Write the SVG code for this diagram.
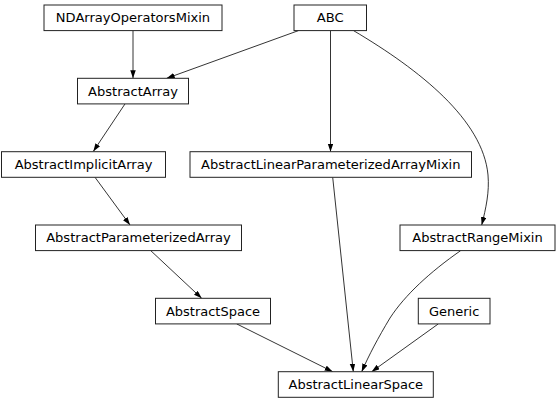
<svg xmlns="http://www.w3.org/2000/svg" width="559" height="403" viewBox="0 0 559 403">
<style>
  .box { fill: #ffffff; stroke: #222222; stroke-width: 1; }
  .lbl { font-family: "DejaVu Sans", "Liberation Sans", sans-serif; font-size: 12px; fill: #000000; text-anchor: middle; }
  .edge { fill: none; stroke: #000000; stroke-width: 0.8; marker-end: url(#arrow); }
</style>
<defs>
  <marker id="arrow" markerUnits="userSpaceOnUse" markerWidth="9" markerHeight="6" refX="8" refY="2.75" orient="auto">
    <path d="M0,0 L8,2.75 L0,5.5 z" fill="#000000"/>
  </marker>
</defs>
<rect width="559" height="403" fill="#ffffff"/>
<g id="connectors">
  <path class="edge" d="M133,30.6 L133,78.3"/>
  <path class="edge" d="M298.5,30.6 L166.7,78.3"/>
  <path class="edge" d="M330.5,30.6 L330.5,151.7"/>
  <path class="edge" d="M353.5,30.6 C420,70 483,120 488,175 C489.5,192 486,208 481.7,225"/>
  <path class="edge" d="M125,103.9 L93.3,151.4"/>
  <path class="edge" d="M95,177.3 L130,225"/>
  <path class="edge" d="M150.7,250.6 L201.7,298.3"/>
  <path class="edge" d="M236.7,323.9 L332.7,371.7"/>
  <path class="edge" d="M332.7,177.3 L353.3,371.7"/>
  <path class="edge" d="M460.7,250.6 C430,272 405,295 390,318 C378,338 369,355 361.7,371.7"/>
  <path class="edge" d="M438.3,323.9 L371.7,371.7"/>
</g>
<g id="NDArrayOperatorsMixin">
  <rect class="box" x="44" y="5" width="178" height="25.6"/>
  <text class="lbl" x="133" y="22.3" textLength="154.3" lengthAdjust="spacingAndGlyphs">NDArrayOperatorsMixin</text>
</g>
<g id="ABC">
  <rect class="box" x="294" y="5" width="72.5" height="25.6"/>
  <text class="lbl" x="330.25" y="22.3" textLength="26.9" lengthAdjust="spacingAndGlyphs">ABC</text>
</g>
<g id="AbstractArray">
  <rect class="box" x="77.5" y="78.3" width="111" height="25.6"/>
  <text class="lbl" x="133" y="95.6" textLength="89.8" lengthAdjust="spacingAndGlyphs">AbstractArray</text>
</g>
<g id="AbstractImplicitArray">
  <rect class="box" x="1.5" y="151.7" width="164" height="25.6"/>
  <text class="lbl" x="83.5" y="168.9" textLength="137.7" lengthAdjust="spacingAndGlyphs">AbstractImplicitArray</text>
</g>
<g id="AbstractLinearParameterizedArrayMixin">
  <rect class="box" x="190" y="151.7" width="281.5" height="25.6"/>
  <text class="lbl" x="330.75" y="168.9" textLength="259.5" lengthAdjust="spacingAndGlyphs">AbstractLinearParameterizedArrayMixin</text>
</g>
<g id="AbstractParameterizedArray">
  <rect class="box" x="35.5" y="225" width="206" height="25.6"/>
  <text class="lbl" x="138.5" y="242.3" textLength="184.7" lengthAdjust="spacingAndGlyphs">AbstractParameterizedArray</text>
</g>
<g id="AbstractRangeMixin">
  <rect class="box" x="400" y="225" width="155" height="25.6"/>
  <text class="lbl" x="477.5" y="242.3" textLength="130.5" lengthAdjust="spacingAndGlyphs">AbstractRangeMixin</text>
</g>
<g id="AbstractSpace">
  <rect class="box" x="155.5" y="298.3" width="115" height="25.6"/>
  <text class="lbl" x="213" y="315.6" textLength="94.2" lengthAdjust="spacingAndGlyphs">AbstractSpace</text>
</g>
<g id="Generic">
  <rect class="box" x="418.3" y="298.3" width="71.7" height="25.6"/>
  <text class="lbl" x="454.2" y="315.6" textLength="50.3" lengthAdjust="spacingAndGlyphs">Generic</text>
</g>
<g id="AbstractLinearSpace">
  <rect class="box" x="278.3" y="371.7" width="155" height="25.6"/>
  <text class="lbl" x="355.8" y="388.9" textLength="134.6" lengthAdjust="spacingAndGlyphs">AbstractLinearSpace</text>
</g>
</svg>
